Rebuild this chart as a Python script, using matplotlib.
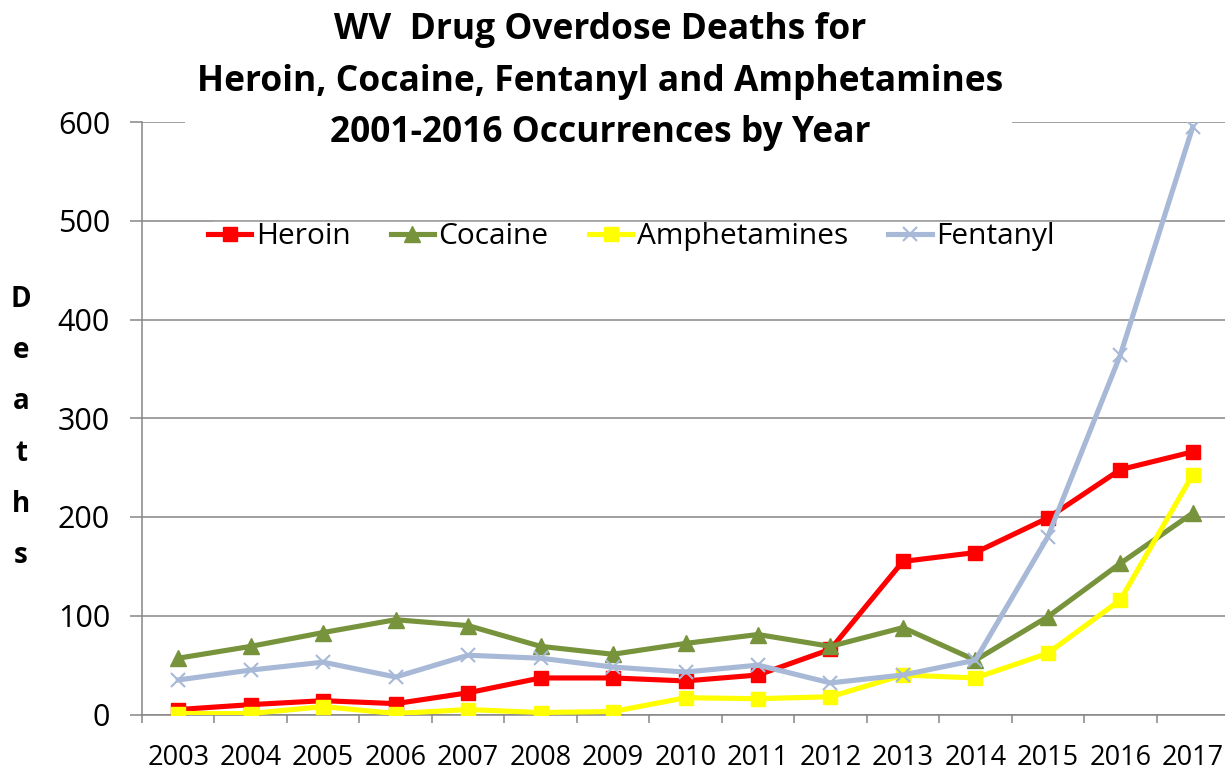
import matplotlib
matplotlib.use("Agg")
import matplotlib.pyplot as plt
from matplotlib.patches import Rectangle

years = ["2003", "2004", "2005", "2006", "2007", "2008", "2009", "2010",
         "2011", "2012", "2013", "2014", "2015", "2016", "2017"]
heroin = [5, 10, 14, 11, 22, 37, 37, 34, 40, 66, 155, 164, 199, 248, 266]
cocaine = [57, 69, 83, 96, 90, 69, 61, 72, 81, 69, 88, 55, 99, 153, 204]
amphetamines = [1, 1, 8, 1, 5, 2, 3, 17, 16, 18, 40, 37, 62, 116, 243]
fentanyl = [35, 45, 53, 38, 60, 57, 48, 43, 50, 32, 40, 55, 180, 364, 595]
yticks = [0, 100, 200, 300, 400, 500, 600]
title_lines = ["WV  Drug Overdose Deaths for",
               "Heroin, Cocaine, Fentanyl and Amphetamines",
               "2001-2016 Occurrences by Year"]
ylabel = "Deaths"

FONT = "Open Sans"
plt.rcParams["font.family"] = [FONT, "DejaVu Sans"]

W, H = 1225, 772
fig = plt.figure(figsize=(W / 100, H / 100), dpi=100)
ax = fig.add_axes([142 / W, (H - 714.5) / H, (1229 - 142) / W, (714.5 - 122) / H])

x = list(range(len(years)))
lw = 3.7
ax.plot(x, heroin, color="#FF0000", lw=lw, marker="s", ms=10.5, label="Heroin", zorder=3)
ax.plot(x, cocaine, color="#77933C", lw=lw, marker="^", ms=11.5, label="Cocaine", zorder=3)
ax.plot(x, amphetamines, color="#FFFF00", lw=lw, marker="s", ms=10.5, label="Amphetamines", zorder=3)
ax.plot(x, fentanyl, color="#A7B9D7", lw=lw, marker="x", ms=10, mew=1.5, label="Fentanyl", zorder=3)

ax.set_xlim(-0.5, len(years) - 0.5)
ax.set_ylim(0, 600)
ax.set_yticks(yticks)
ax.set_yticklabels([str(v) for v in yticks], fontsize=22)
ax.set_xticks(x)
ax.set_xticklabels(years, fontsize=19.5)
ax.set_xticks([i - 0.5 for i in range(len(years) + 1)], minor=True)
ax.tick_params(axis="x", which="major", length=0, pad=21)
ax.tick_params(axis="x", which="minor", length=6, width=1.1, color="#868686", direction="out")
ax.tick_params(axis="y", length=9, width=1.1, color="#868686", pad=14)

ax.grid(axis="y", color="#868686", lw=1.1)
ax.set_axisbelow(True)
for s in ["top", "right"]:
    ax.spines[s].set_visible(False)
for s in ["left", "bottom"]:
    ax.spines[s].set_color("#868686")
    ax.spines[s].set_linewidth(1.1)

leg = ax.legend(loc="upper left", bbox_to_anchor=((208 - 142) / (1229 - 142), (714.5 - 222) / (714.5 - 122)),
                ncol=4, frameon=True, fontsize=21.5, handlelength=1.45, handletextpad=0.15,
                columnspacing=1.35, borderpad=0.0, borderaxespad=0)
leg.get_frame().set_facecolor("white")
leg.get_frame().set_edgecolor("white")

# white box behind title (covers top gridline)
fig.add_artist(Rectangle((185 / W, (H - 145) / H), (1012 - 185) / W, 145 / H,
                         transform=fig.transFigure, facecolor="white", edgecolor="none", zorder=2))
for i, line in enumerate(title_lines):
    fig.text(600 / W, 1 - (39 + 51.5 * i) / H, line, ha="center", va="baseline",
             fontsize=25.5, fontweight="bold", zorder=3)

for i, ch in enumerate(ylabel):
    fig.text(21 / W, 1 - (307 + 51.2 * i) / H, ch, ha="center", va="baseline",
             fontsize=20, fontweight="bold")

fig.savefig("out.png", dpi=100)
